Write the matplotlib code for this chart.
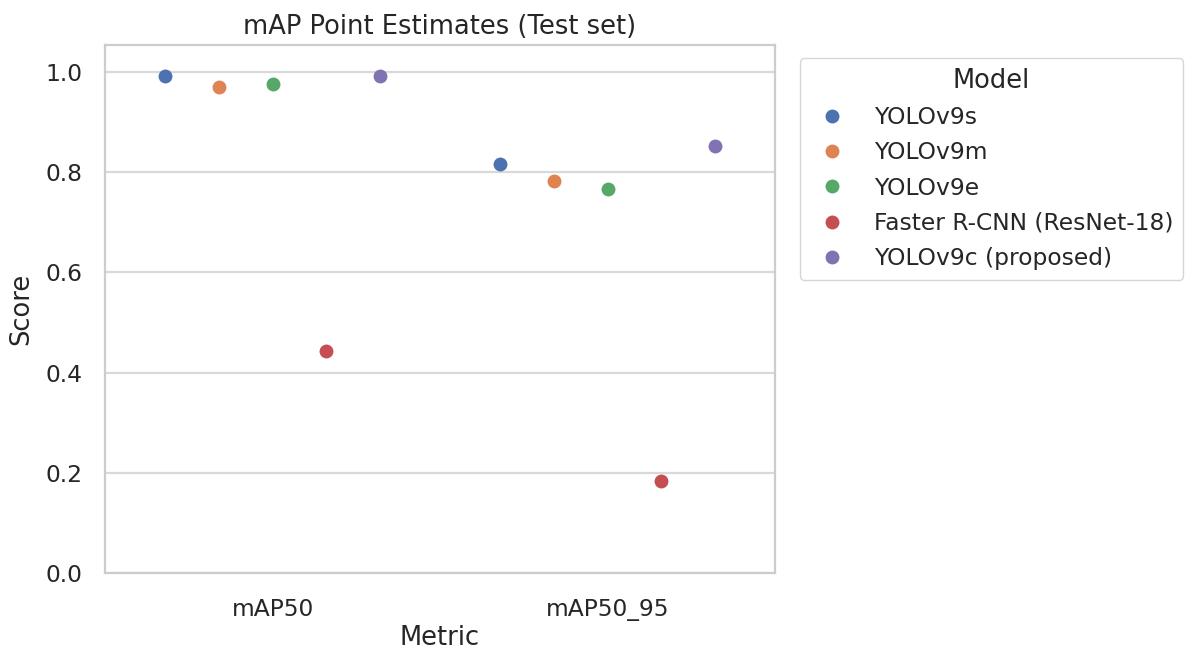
import matplotlib
matplotlib.use("Agg")
import matplotlib.pyplot as plt
import seaborn as sns
import pandas as pd

sns.set_theme(style="whitegrid")
plt.rcParams['font.family'] = ['DejaVu Sans']

metrics = ["mAP50", "mAP50_95"]
models = ["YOLOv9s", "YOLOv9m", "YOLOv9e", "Faster R-CNN (ResNet-18)", "YOLOv9c (proposed)"]
map50 = [0.992, 0.970, 0.976, 0.443, 0.992]
map50_95 = [0.816, 0.782, 0.766, 0.184, 0.852]

rows = []
for m, a, b in zip(models, map50, map50_95):
    rows.append({"Metric": "mAP50", "Model": m, "Score": a})
    rows.append({"Metric": "mAP50_95", "Model": m, "Score": b})
df = pd.DataFrame(rows)

fig = plt.figure(figsize=(11.85, 6.51), dpi=100)
ax = fig.add_axes([105/1185, 1-573/651, 670/1185, 528/651])
sns.stripplot(data=df, x="Metric", y="Score", hue="Model", order=metrics, hue_order=models,
              dodge=True, jitter=False, size=10, palette="deep", ax=ax)
ax.set_ylim(0, 1.054)
ax.set_xlim(-0.5, 1.5)
ax.set_title("mAP Point Estimates (Test set)", fontsize=18.5, pad=8)
ax.set_xlabel("Metric", fontsize=18.5, labelpad=3)
ax.set_ylabel("Score", fontsize=18.5, labelpad=8)
ax.tick_params(labelsize=16.8)
ax.tick_params(axis="x", pad=12)
ax.tick_params(axis="y", pad=10)
for s in ax.spines.values():
    s.set_color("#cccccc")
    s.set_linewidth(1.6)
ax.grid(axis="x", visible=False)
ax.grid(axis="y", color="#d9d9d9", linewidth=1.6)
leg = ax.legend(title="Model", bbox_to_anchor=(1.037, 0.975), loc="upper left",
                fontsize=16.8, title_fontsize=18.5, markerscale=1.0, borderaxespad=0,
                labelspacing=0.53, handletextpad=0.8)
fig.savefig("out.png", dpi=100)
